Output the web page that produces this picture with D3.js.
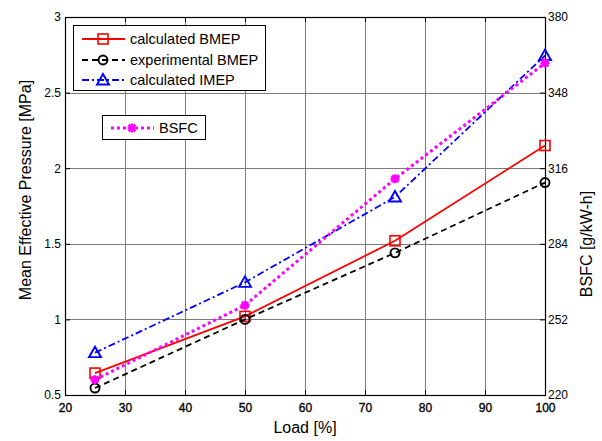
<!DOCTYPE html>
<html>
<head>
<meta charset="utf-8">
<script src="https://cdn.jsdelivr.net/npm/d3@7"></script>
<style>
  body { margin: 0; background: #fff; }
  svg { display: block; font-family: Arial, "Liberation Sans", sans-serif; }
</style>
</head>
<body>
<svg id="chart" width="602" height="441"></svg>
<script>
const width = 602;
const height = 441;
const plotLeft = 65, plotRight = 545, plotTop = 17, plotBottom = 395;

// data
const load = [25, 50, 75, 100];
const calcBMEP = [0.645, 1.02, 1.52, 2.15];
const expBMEP = [0.546, 1.0, 1.44, 1.905];
const calcIMEP = [0.78, 1.245, 1.81, 2.745];
const bsfc = [226.5, 258, 311.5, 360.5];

const xTicks = [20, 30, 40, 50, 60, 70, 80, 90, 100];
const yTicks = [0.5, 1, 1.5, 2, 2.5, 3];
const y2Ticks = [220, 252, 284, 316, 348, 380];

let x = d3.scaleLinear().domain([20, 100]).range([plotLeft, plotRight]);
let y = d3.scaleLinear().domain([0.5, 3]).range([plotBottom, plotTop]);
let y2 = d3.scaleLinear().domain([220, 380]).range([plotBottom, plotTop]);

const svg = d3.select('#chart');

// grid
const gGrid = svg.append('g').attr('stroke', '#7a7a7a').attr('stroke-width', 1);
xTicks.slice(1, -1).forEach(t => {
  gGrid.append('line')
    .attr('x1', x(t) + 0.5).attr('x2', x(t) + 0.5)
    .attr('y1', plotTop).attr('y2', plotBottom);
});
yTicks.slice(1, -1).forEach(t => {
  gGrid.append('line')
    .attr('x1', plotLeft).attr('x2', plotRight)
    .attr('y1', Math.round(y(t)) + 0.5).attr('y2', Math.round(y(t)) + 0.5);
});

// axes
function styleAxis(g) {
  g.select('.domain').remove();
  g.selectAll('.tick line').attr('stroke', '#000');
  g.selectAll('text').attr('fill', '#000').attr('font-size', 12);
}

svg.append('g')
  .attr('transform', `translate(0,${plotBottom})`)
  .call(d3.axisBottom(x).tickValues(xTicks).tickSize(-5).tickPadding(8).tickFormat(d => d))
  .call(styleAxis)
  .call(g => g.selectAll('text').attr('stroke', '#000').attr('stroke-width', 0.35));

svg.append('g')
  .attr('transform', `translate(0,${plotTop})`)
  .call(d3.axisTop(x).tickValues(xTicks).tickSize(-5).tickFormat(''))
  .call(styleAxis);

svg.append('g')
  .attr('transform', `translate(${plotLeft},0)`)
  .call(d3.axisLeft(y).tickValues(yTicks).tickSize(-5).tickPadding(4).tickFormat(d => d))
  .call(styleAxis);

svg.append('g')
  .attr('transform', `translate(${plotRight},0)`)
  .call(d3.axisRight(y2).tickValues(y2Ticks).tickSize(-5).tickPadding(3).tickFormat(d => d))
  .call(styleAxis);

// frame
svg.append('rect')
  .attr('x', plotLeft + 0.5).attr('y', plotTop + 0.5)
  .attr('width', plotRight - plotLeft).attr('height', plotBottom - plotTop)
  .attr('fill', 'none').attr('stroke', '#000').attr('stroke-width', 1.2);

// axis labels
svg.append('text')
  .attr('x', (plotLeft + plotRight) / 2).attr('y', 433)
  .attr('text-anchor', 'middle').attr('font-size', 16)
  .text('Load [%]');

svg.append('text')
  .attr('transform', 'translate(31,190) rotate(-90)')
  .attr('text-anchor', 'middle').attr('font-size', 16)
  .text('Mean Effective Pressure [MPa]');

svg.append('text')
  .attr('transform', 'translate(592,244) rotate(-90)')
  .attr('text-anchor', 'middle').attr('font-size', 16)
  .text('BSFC [g/kW-h]');

// series
const series = [
  {name: 'calculated BMEP', values: calcBMEP, scale: y, color: '#ff0000', dash: null, width: 1.8, marker: 'square'},
  {name: 'experimental BMEP', values: expBMEP, scale: y, color: '#000000', dash: '6,4', width: 1.8, marker: 'circle'},
  {name: 'calculated IMEP', values: calcIMEP, scale: y, color: '#0000ff', dash: '7,3,2,3', width: 1.8, marker: 'triangle'},
  {name: 'BSFC', values: bsfc, scale: y2, color: '#ff00ff', dash: '3,3', width: 3, marker: 'star'}
];

function drawMarker(g, kind, cx, cy, color) {
  if (kind === 'square') {
    g.append('rect').attr('x', cx - 5).attr('y', cy - 5).attr('width', 10).attr('height', 10)
      .attr('fill', 'none').attr('stroke', color).attr('stroke-width', 1.6);
  } else if (kind === 'circle') {
    g.append('circle').attr('cx', cx).attr('cy', cy).attr('r', 4.5)
      .attr('fill', 'none').attr('stroke', color).attr('stroke-width', 1.9);
  } else if (kind === 'triangle') {
    g.append('path').attr('d', `M${cx},${cy - 6} L${cx + 6},${cy + 4.5} L${cx - 6},${cy + 4.5} Z`)
      .attr('fill', 'none').attr('stroke', color).attr('stroke-width', 1.9);
  } else if (kind === 'star') {
    const r = 4.5, d = 3.3;
    g.append('path')
      .attr('d', `M${cx - r},${cy} L${cx + r},${cy} M${cx},${cy - r} L${cx},${cy + r} M${cx - d},${cy - d} L${cx + d},${cy + d} M${cx - d},${cy + d} L${cx + d},${cy - d}`)
      .attr('fill', 'none').attr('stroke', color).attr('stroke-width', 2.6);
  }
}

series.forEach(s => {
  const g = svg.append('g');
  const line = d3.line().x((d, i) => x(load[i])).y(d => s.scale(d));
  g.append('path')
    .attr('d', line(s.values))
    .attr('fill', 'none')
    .attr('stroke', s.color)
    .attr('stroke-width', s.width)
    .attr('stroke-dasharray', s.dash);
  s.values.forEach((v, i) => drawMarker(g, s.marker, x(load[i]), s.scale(v), s.color));
});

// legends
function legend(items, bx, by, bw, bh, rowY) {
  const g = svg.append('g');
  g.append('rect').attr('x', bx + 0.5).attr('y', by + 0.5).attr('width', bw).attr('height', bh)
    .attr('fill', '#fff').attr('stroke', '#000').attr('stroke-width', 1);
  items.forEach((s, i) => {
    const ry = rowY[i];
    g.append('line').attr('x1', bx + 9).attr('x2', bx + 52).attr('y1', ry).attr('y2', ry)
      .attr('stroke', s.color).attr('stroke-width', s.width).attr('stroke-dasharray', s.dash);
    drawMarker(g, s.marker, bx + 30, ry, s.color);
    g.append('text').attr('x', bx + 57).attr('y', ry).attr('dy', '0.35em')
      .attr('font-size', 14.5).text(s.name);
  });
}

legend(series.slice(0, 3), 73, 25, 192, 65, [39, 60, 80]);
legend(series.slice(3), 102, 115, 103, 24, [128]);
</script>
</body>
</html>
